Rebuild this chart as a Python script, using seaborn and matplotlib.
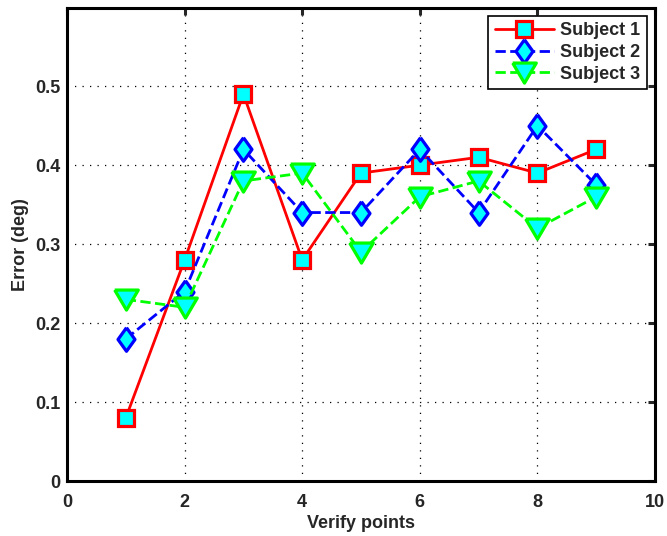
import matplotlib
matplotlib.use('Agg')
import matplotlib.pyplot as plt
import seaborn as sns

# verify points and error (deg) per subject
points = [1, 2, 3, 4, 5, 6, 7, 8, 9]
subject1 = [0.08, 0.28, 0.49, 0.28, 0.39, 0.40, 0.41, 0.39, 0.42]
subject2 = [0.18, 0.24, 0.42, 0.34, 0.34, 0.42, 0.34, 0.45, 0.375]
subject3 = [0.23, 0.22, 0.38, 0.39, 0.29, 0.36, 0.38, 0.32, 0.36]
labels = ['Subject 1', 'Subject 2', 'Subject 3']
x_ticks = [0, 2, 4, 6, 8, 10]
y_ticks = [0, 0.1, 0.2, 0.3, 0.4, 0.5]

sns.set_style('white')
plt.rcParams['font.family'] = ['Liberation Sans', 'DejaVu Sans']
plt.rcParams['font.weight'] = 'bold'
plt.rcParams['font.size'] = 13

# matlab-like diamond and down-triangle shapes
diamond = [(0, 1), (0.72, 0), (0, -1), (-0.72, 0), (0, 1)]
tri_down = [(-1, 0.8), (1, 0.8), (0, -0.9), (-1, 0.8)]

fig = plt.figure(figsize=(6.67, 5.36), dpi=100)
ax = fig.add_axes([0.1005, 0.1026, 0.8815, 0.8824])

series = [
    (subject1, 'red', 's', '-', 11),
    (subject2, 'blue', diamond, '--', 17),
    (subject3, 'lime', tri_down, '--', 17),
]
for (vals, col, mk, ls, ms), lab in zip(series, labels):
    sns.lineplot(x=points, y=vals, color=col, marker=mk, linestyle=ls,
                 markersize=ms, markeredgewidth=2.3, markeredgecolor=col,
                 markerfacecolor='cyan', linewidth=2.0, label=lab, ax=ax)

ax.set_xlim(0, 10)
ax.set_ylim(0, 0.599)
ax.set_xticks(x_ticks)
ax.set_yticks(y_ticks)
ax.set_yticklabels(['0', '0.1', '0.2', '0.3', '0.4', '0.5'])
ax.set_xlabel('Verify points', fontweight='bold', labelpad=3)
ax.set_ylabel('Error (deg)', fontweight='bold', labelpad=4)

ax.grid(True, color='black', linestyle=(0, (1, 5)), linewidth=0.9)
for s in ax.spines.values():
    s.set_linewidth(2.2)
    s.set_color('black')
ax.tick_params(direction='in', length=5, width=2.2, top=True, right=True,
               pad=5)
ax.tick_params(axis='x', pad=9)

leg = ax.legend(loc='upper right', fancybox=False, framealpha=1,
                edgecolor='black', handlelength=3.3, borderpad=0.35,
                labelspacing=0.25, handletextpad=0.35, borderaxespad=0.45,
                prop={'weight': 'bold', 'size': 13})
leg.get_frame().set_linewidth(1.2)

fig.savefig('out.png', dpi=100)
